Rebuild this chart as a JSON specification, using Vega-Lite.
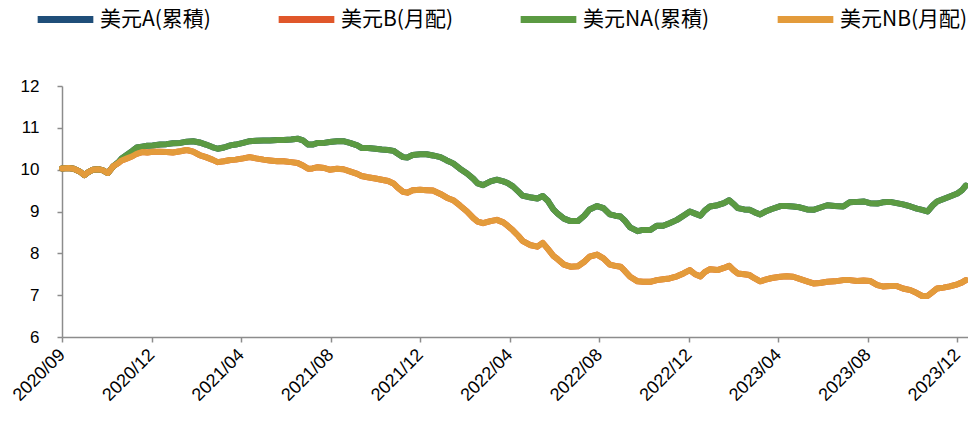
{
  "$schema": "https://vega.github.io/schema/vega-lite/v6.json",
  "width": 906,
  "height": 251,
  "autosize": "none",
  "padding": {"left": 62, "top": 86, "right": 0, "bottom": 84},
  "background": "white",
  "config": {"view": {"stroke": null}, "font": "Liberation Sans"},
  "data": {"values": [
    {"d":0,"A":10.03,"B":10.03,"NA":10.03,"NB":10.03},
    {"d":6,"A":10.04,"B":10.04,"NA":10.04,"NB":10.04},
    {"d":11,"A":10.02,"B":10.02,"NA":10.02,"NB":10.02},
    {"d":17,"A":9.95,"B":9.95,"NA":9.95,"NB":9.95},
    {"d":21,"A":9.87,"B":9.87,"NA":9.87,"NB":9.87},
    {"d":24,"A":9.93,"B":9.93,"NA":9.93,"NB":9.93},
    {"d":29,"A":10.0,"B":10.0,"NA":10.0,"NB":10.0},
    {"d":34,"A":10.01,"B":10.01,"NA":10.01,"NB":10.01},
    {"d":38,"A":9.99,"B":9.99,"NA":9.99,"NB":9.99},
    {"d":43,"A":9.92,"B":9.92,"NA":9.92,"NB":9.92},
    {"d":48,"A":10.08,"B":10.08,"NA":10.08,"NB":10.08},
    {"d":53,"A":10.18,"B":10.16,"NA":10.18,"NB":10.16},
    {"d":56,"A":10.27,"B":10.22,"NA":10.27,"NB":10.22},
    {"d":61,"A":10.36,"B":10.27,"NA":10.36,"NB":10.27},
    {"d":66,"A":10.45,"B":10.32,"NA":10.45,"NB":10.32},
    {"d":70,"A":10.53,"B":10.38,"NA":10.53,"NB":10.38},
    {"d":75,"A":10.55,"B":10.42,"NA":10.55,"NB":10.42},
    {"d":80,"A":10.57,"B":10.41,"NA":10.57,"NB":10.41},
    {"d":85,"A":10.58,"B":10.43,"NA":10.58,"NB":10.43},
    {"d":92,"A":10.6,"B":10.43,"NA":10.6,"NB":10.43},
    {"d":98,"A":10.61,"B":10.42,"NA":10.61,"NB":10.42},
    {"d":104,"A":10.63,"B":10.41,"NA":10.63,"NB":10.41},
    {"d":111,"A":10.64,"B":10.44,"NA":10.64,"NB":10.44},
    {"d":117,"A":10.67,"B":10.47,"NA":10.67,"NB":10.47},
    {"d":123,"A":10.68,"B":10.43,"NA":10.68,"NB":10.43},
    {"d":129,"A":10.65,"B":10.35,"NA":10.65,"NB":10.35},
    {"d":135,"A":10.6,"B":10.3,"NA":10.6,"NB":10.3},
    {"d":141,"A":10.54,"B":10.24,"NA":10.54,"NB":10.24},
    {"d":146,"A":10.5,"B":10.18,"NA":10.5,"NB":10.18},
    {"d":152,"A":10.53,"B":10.2,"NA":10.53,"NB":10.2},
    {"d":158,"A":10.58,"B":10.23,"NA":10.58,"NB":10.23},
    {"d":163,"A":10.6,"B":10.24,"NA":10.6,"NB":10.24},
    {"d":170,"A":10.64,"B":10.27,"NA":10.64,"NB":10.27},
    {"d":176,"A":10.68,"B":10.3,"NA":10.68,"NB":10.3},
    {"d":182,"A":10.69,"B":10.27,"NA":10.69,"NB":10.27},
    {"d":189,"A":10.7,"B":10.24,"NA":10.7,"NB":10.24},
    {"d":195,"A":10.7,"B":10.22,"NA":10.7,"NB":10.22},
    {"d":202,"A":10.71,"B":10.2,"NA":10.71,"NB":10.2},
    {"d":208,"A":10.71,"B":10.2,"NA":10.71,"NB":10.2},
    {"d":215,"A":10.72,"B":10.18,"NA":10.72,"NB":10.18},
    {"d":221,"A":10.74,"B":10.16,"NA":10.74,"NB":10.16},
    {"d":226,"A":10.7,"B":10.1,"NA":10.7,"NB":10.1},
    {"d":231,"A":10.6,"B":10.02,"NA":10.6,"NB":10.02},
    {"d":235,"A":10.6,"B":10.03,"NA":10.6,"NB":10.03},
    {"d":240,"A":10.64,"B":10.06,"NA":10.64,"NB":10.06},
    {"d":246,"A":10.64,"B":10.04,"NA":10.64,"NB":10.04},
    {"d":251,"A":10.66,"B":10.0,"NA":10.66,"NB":10.0},
    {"d":258,"A":10.68,"B":10.02,"NA":10.68,"NB":10.02},
    {"d":264,"A":10.68,"B":10.01,"NA":10.68,"NB":10.01},
    {"d":270,"A":10.64,"B":9.96,"NA":10.64,"NB":9.96},
    {"d":277,"A":10.58,"B":9.9,"NA":10.58,"NB":9.9},
    {"d":281,"A":10.52,"B":9.85,"NA":10.52,"NB":9.85},
    {"d":287,"A":10.52,"B":9.82,"NA":10.52,"NB":9.82},
    {"d":294,"A":10.5,"B":9.79,"NA":10.5,"NB":9.79},
    {"d":300,"A":10.48,"B":9.76,"NA":10.48,"NB":9.76},
    {"d":306,"A":10.47,"B":9.73,"NA":10.47,"NB":9.73},
    {"d":311,"A":10.45,"B":9.67,"NA":10.45,"NB":9.67},
    {"d":315,"A":10.38,"B":9.57,"NA":10.38,"NB":9.57},
    {"d":320,"A":10.3,"B":9.47,"NA":10.3,"NB":9.47},
    {"d":324,"A":10.29,"B":9.45,"NA":10.29,"NB":9.45},
    {"d":329,"A":10.35,"B":9.51,"NA":10.35,"NB":9.51},
    {"d":336,"A":10.37,"B":9.52,"NA":10.37,"NB":9.52},
    {"d":342,"A":10.37,"B":9.51,"NA":10.37,"NB":9.51},
    {"d":348,"A":10.34,"B":9.5,"NA":10.34,"NB":9.5},
    {"d":355,"A":10.3,"B":9.42,"NA":10.3,"NB":9.42},
    {"d":361,"A":10.22,"B":9.33,"NA":10.22,"NB":9.33},
    {"d":367,"A":10.15,"B":9.27,"NA":10.15,"NB":9.27},
    {"d":373,"A":10.03,"B":9.15,"NA":10.03,"NB":9.15},
    {"d":380,"A":9.91,"B":9.0,"NA":9.91,"NB":9.0},
    {"d":386,"A":9.78,"B":8.84,"NA":9.78,"NB":8.84},
    {"d":390,"A":9.67,"B":8.76,"NA":9.67,"NB":8.76},
    {"d":395,"A":9.63,"B":8.72,"NA":9.63,"NB":8.72},
    {"d":402,"A":9.72,"B":8.77,"NA":9.72,"NB":8.77},
    {"d":408,"A":9.76,"B":8.8,"NA":9.76,"NB":8.8},
    {"d":414,"A":9.72,"B":8.74,"NA":9.72,"NB":8.74},
    {"d":418,"A":9.68,"B":8.66,"NA":9.68,"NB":8.66},
    {"d":423,"A":9.6,"B":8.55,"NA":9.6,"NB":8.55},
    {"d":428,"A":9.48,"B":8.42,"NA":9.48,"NB":8.42},
    {"d":432,"A":9.38,"B":8.3,"NA":9.38,"NB":8.3},
    {"d":439,"A":9.34,"B":8.2,"NA":9.34,"NB":8.2},
    {"d":446,"A":9.31,"B":8.16,"NA":9.31,"NB":8.16},
    {"d":451,"A":9.37,"B":8.25,"NA":9.37,"NB":8.25},
    {"d":456,"A":9.25,"B":8.1,"NA":9.25,"NB":8.1},
    {"d":461,"A":9.05,"B":7.94,"NA":9.05,"NB":7.94},
    {"d":465,"A":8.95,"B":7.86,"NA":8.95,"NB":7.86},
    {"d":471,"A":8.83,"B":7.73,"NA":8.83,"NB":7.73},
    {"d":477,"A":8.77,"B":7.68,"NA":8.77,"NB":7.68},
    {"d":484,"A":8.77,"B":7.69,"NA":8.77,"NB":7.69},
    {"d":490,"A":8.9,"B":7.8,"NA":8.9,"NB":7.8},
    {"d":495,"A":9.05,"B":7.92,"NA":9.05,"NB":7.92},
    {"d":502,"A":9.13,"B":7.97,"NA":9.13,"NB":7.97},
    {"d":508,"A":9.08,"B":7.88,"NA":9.08,"NB":7.88},
    {"d":514,"A":8.93,"B":7.73,"NA":8.93,"NB":7.73},
    {"d":519,"A":8.9,"B":7.7,"NA":8.9,"NB":7.7},
    {"d":524,"A":8.88,"B":7.68,"NA":8.88,"NB":7.68},
    {"d":528,"A":8.78,"B":7.58,"NA":8.78,"NB":7.58},
    {"d":533,"A":8.62,"B":7.44,"NA":8.62,"NB":7.44},
    {"d":540,"A":8.53,"B":7.33,"NA":8.53,"NB":7.33},
    {"d":545,"A":8.56,"B":7.32,"NA":8.56,"NB":7.32},
    {"d":552,"A":8.56,"B":7.32,"NA":8.56,"NB":7.32},
    {"d":558,"A":8.66,"B":7.36,"NA":8.66,"NB":7.36},
    {"d":564,"A":8.66,"B":7.38,"NA":8.66,"NB":7.38},
    {"d":570,"A":8.72,"B":7.4,"NA":8.72,"NB":7.4},
    {"d":577,"A":8.8,"B":7.45,"NA":8.8,"NB":7.45},
    {"d":583,"A":8.9,"B":7.52,"NA":8.9,"NB":7.52},
    {"d":589,"A":9.0,"B":7.6,"NA":9.0,"NB":7.6},
    {"d":594,"A":8.95,"B":7.5,"NA":8.95,"NB":7.5},
    {"d":599,"A":8.9,"B":7.45,"NA":8.9,"NB":7.45},
    {"d":603,"A":9.02,"B":7.55,"NA":9.02,"NB":7.55},
    {"d":608,"A":9.12,"B":7.62,"NA":9.12,"NB":7.62},
    {"d":615,"A":9.15,"B":7.6,"NA":9.15,"NB":7.6},
    {"d":621,"A":9.2,"B":7.65,"NA":9.2,"NB":7.65},
    {"d":626,"A":9.27,"B":7.7,"NA":9.27,"NB":7.7},
    {"d":630,"A":9.18,"B":7.6,"NA":9.18,"NB":7.6},
    {"d":634,"A":9.08,"B":7.52,"NA":9.08,"NB":7.52},
    {"d":640,"A":9.05,"B":7.5,"NA":9.05,"NB":7.5},
    {"d":645,"A":9.04,"B":7.48,"NA":9.04,"NB":7.48},
    {"d":650,"A":8.98,"B":7.4,"NA":8.98,"NB":7.4},
    {"d":655,"A":8.93,"B":7.33,"NA":8.93,"NB":7.33},
    {"d":660,"A":9.0,"B":7.37,"NA":9.0,"NB":7.37},
    {"d":666,"A":9.06,"B":7.41,"NA":9.06,"NB":7.41},
    {"d":674,"A":9.13,"B":7.44,"NA":9.13,"NB":7.44},
    {"d":680,"A":9.13,"B":7.45,"NA":9.13,"NB":7.45},
    {"d":686,"A":9.12,"B":7.44,"NA":9.12,"NB":7.44},
    {"d":692,"A":9.1,"B":7.39,"NA":9.1,"NB":7.39},
    {"d":699,"A":9.05,"B":7.33,"NA":9.05,"NB":7.33},
    {"d":705,"A":9.04,"B":7.28,"NA":9.04,"NB":7.28},
    {"d":711,"A":9.09,"B":7.29,"NA":9.09,"NB":7.29},
    {"d":718,"A":9.15,"B":7.32,"NA":9.15,"NB":7.32},
    {"d":725,"A":9.13,"B":7.33,"NA":9.13,"NB":7.33},
    {"d":733,"A":9.12,"B":7.36,"NA":9.12,"NB":7.36},
    {"d":739,"A":9.22,"B":7.36,"NA":9.22,"NB":7.36},
    {"d":746,"A":9.23,"B":7.34,"NA":9.23,"NB":7.34},
    {"d":752,"A":9.24,"B":7.35,"NA":9.24,"NB":7.35},
    {"d":758,"A":9.2,"B":7.34,"NA":9.2,"NB":7.34},
    {"d":765,"A":9.19,"B":7.24,"NA":9.19,"NB":7.24},
    {"d":770,"A":9.22,"B":7.21,"NA":9.22,"NB":7.21},
    {"d":777,"A":9.23,"B":7.22,"NA":9.23,"NB":7.22},
    {"d":783,"A":9.2,"B":7.22,"NA":9.2,"NB":7.22},
    {"d":789,"A":9.17,"B":7.16,"NA":9.17,"NB":7.16},
    {"d":796,"A":9.12,"B":7.12,"NA":9.12,"NB":7.12},
    {"d":802,"A":9.07,"B":7.05,"NA":9.07,"NB":7.05},
    {"d":807,"A":9.04,"B":6.98,"NA":9.04,"NB":6.98},
    {"d":812,"A":9.0,"B":6.98,"NA":9.0,"NB":6.98},
    {"d":817,"A":9.15,"B":7.08,"NA":9.15,"NB":7.08},
    {"d":821,"A":9.24,"B":7.16,"NA":9.24,"NB":7.16},
    {"d":827,"A":9.3,"B":7.18,"NA":9.3,"NB":7.18},
    {"d":833,"A":9.36,"B":7.21,"NA":9.36,"NB":7.21},
    {"d":840,"A":9.43,"B":7.26,"NA":9.43,"NB":7.26},
    {"d":844,"A":9.5,"B":7.3,"NA":9.5,"NB":7.3},
    {"d":848,"A":9.62,"B":7.36,"NA":9.62,"NB":7.36}
  ]},
  "transform": [{"fold": ["A", "B", "NA", "NB"], "as": ["s", "v"]}],
  "mark": {"type": "line", "strokeWidth": 6, "strokeJoin": "round", "strokeCap": "round"},
  "encoding": {
    "x": {
      "field": "d", "type": "quantitative",
      "scale": {"domain": [0, 850], "nice": false, "zero": false},
      "axis": {
        "title": null, "grid": false,
        "values": [0, 84, 168, 252, 336, 420, 504, 588, 672, 756, 840],
        "labelExpr": "['2020/09','2020/12','2021/04','2021/08','2021/12','2022/04','2022/08','2022/12','2023/04','2023/08','2023/12'][round(datum.value/84)]",
        "labelAngle": -45, "labelAlign": "right", "labelBaseline": "middle",
        "labelFontSize": 18, "labelColor": "#000000", "labelPadding": 10,
        "labelFlush": false, "labelOverlap": false,
        "domainColor": "#8c8c8c", "domainWidth": 1.5,
        "tickColor": "#8c8c8c", "tickWidth": 1.5, "tickSize": 5
      }
    },
    "y": {
      "field": "v", "type": "quantitative",
      "scale": {"domain": [6, 12], "nice": false, "zero": false},
      "axis": {
        "title": null, "grid": false,
        "values": [6, 7, 8, 9, 10, 11, 12],
        "labelFontSize": 17, "labelColor": "#000000", "labelPadding": 18,
        "domainColor": "#8c8c8c", "domainWidth": 1.5,
        "tickColor": "#8c8c8c", "tickWidth": 1.5, "tickSize": 5
      }
    },
    "color": {
      "field": "s", "type": "nominal",
      "scale": {"domain": ["A", "B", "NA", "NB"], "range": ["#1f4e79", "#e0572a", "#5b9a42", "#e39b3b"]},
      "legend": {
        "title": null, "orient": "none", "legendX": -28, "legendY": -98,
        "direction": "horizontal", "columnPadding": 53, "gridAlign": "none",
        "symbolType": "stroke", "symbolStrokeWidth": 7, "symbolSize": 3100,
        "labelFont": "Noto Sans CJK TC", "labelFontSize": 21, "labelColor": "#000000",
        "labelOffset": 3,
        "labelExpr": "{'A':'美元A(累積)','B':'美元B(月配)','NA':'美元NA(累積)','NB':'美元NB(月配)'}[datum.label]"
      }
    }
  }
}
